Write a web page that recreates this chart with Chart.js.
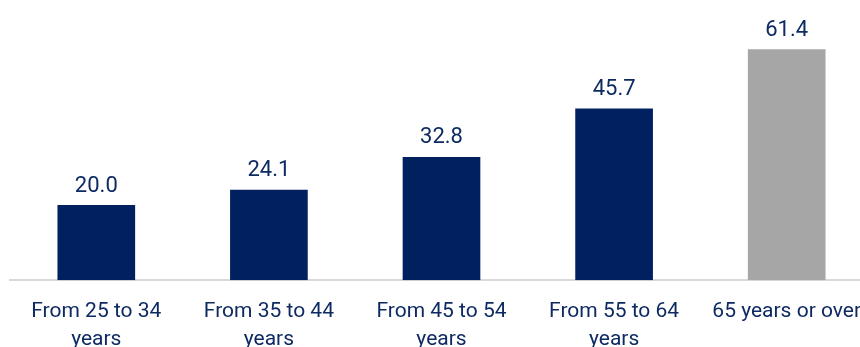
<!DOCTYPE html>
<html>
<head>
<meta charset="utf-8">
<script src="https://cdn.jsdelivr.net/npm/chart.js@4"></script>
<style>
  html, body { margin: 0; padding: 0; overflow: hidden; background: #fff; }
  #wrap { position: relative; width: 880px; height: 371px; }
</style>
</head>
<body>
<div id="wrap"><canvas id="myChart"></canvas></div>
<script>
// 데이터
const categories = [
    ["From 25 to 34", "years"],
    ["From 35 to 44", "years"],
    ["From 45 to 54", "years"],
    ["From 55 to 64", "years"],
    "65 years or over"
];
const values = [20.0, 24.1, 32.8, 45.7, 61.4];
const barColors = ["#002060", "#002060", "#002060", "#002060", "#A6A6A6"];

const fontFamily = "'Liberation Sans Narrow', 'Arial Narrow', 'Roboto', sans-serif";
const textColor = "#0E2A62";

// 막대 위에 값 표시
const valueLabels = {
    id: "valueLabels",
    afterDatasetsDraw(chart) {
        const c = chart.ctx;
        const meta = chart.getDatasetMeta(0);
        c.save();
        c.font = "22px " + fontFamily;
        c.fillStyle = textColor;
        c.textAlign = "center";
        c.textBaseline = "bottom";
        meta.data.forEach((bar, i) => {
            c.fillText(values[i].toFixed(1), bar.x, bar.y - 8);
        });
        c.restore();
    }
};

let ctx = document.getElementById("myChart");

let config = {
    type: "bar",
    data: {
        labels: categories,
        datasets: [{
            data: values,
            backgroundColor: barColors,
            barPercentage: 0.45,
            categoryPercentage: 1.0
        }]
    },
    options: {
        responsive: true,
        maintainAspectRatio: false,
        animation: false,
        layout: { padding: { left: 10, right: 7, top: 17, bottom: 0 } },
        plugins: {
            legend: { display: false },
            tooltip: { enabled: false }
        },
        scales: {
            x: {
                grid: { display: false, drawTicks: false },
                border: { display: true, color: "#D9D9D9", width: 2 },
                ticks: {
                    color: textColor,
                    font: { family: fontFamily, size: 21, lineHeight: 1.35 },
                    padding: 17,
                    maxRotation: 0,
                    autoSkip: false
                }
            },
            y: {
                display: false,
                min: 0,
                max: 70
            }
        }
    },
    plugins: [valueLabels]
};

let myChart = new Chart(ctx, config);
</script>
</body>
</html>
